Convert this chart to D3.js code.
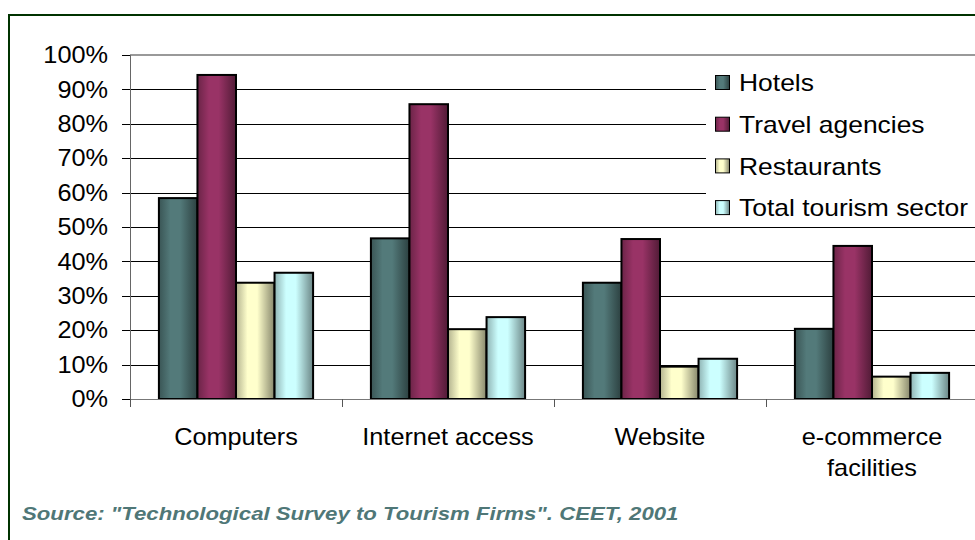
<!DOCTYPE html>
<html lang="en">
<head>
    <meta charset="utf-8">
    <title>Technology use in tourism firms</title>
    <style>
        body {
            margin: 0;
            background: #fff;
            font-family: Arial, "Liberation Sans", sans-serif;
        }
        svg { display: block; }
    </style>
</head>
<body>
    <svg id="chart" width="975" height="540"></svg>

    <script src="https://d3js.org/d3.v7.min.js"></script>
    <script>
        // Data
        const categories = ["Computers", "Internet access", "Website", "e-commerce facilities"];
        const seriesNames = ["Hotels", "Travel agencies", "Restaurants", "Total tourism sector"];
        const hotels = [0.584, 0.467, 0.338, 0.204];
        const travelAgencies = [0.942, 0.857, 0.465, 0.445];
        const restaurants = [0.338, 0.203, 0.094, 0.065];
        const totalTourism = [0.367, 0.238, 0.117, 0.076];
        const yTicks = [0, 0.1, 0.2, 0.3, 0.4, 0.5, 0.6, 0.7, 0.8, 0.9, 1];

        const seriesValues = [hotels, travelAgencies, restaurants, totalTourism];
        const colors = ["#537a7a", "#993366", "#ffffcc", "#ccffff"];

        // text in the reference is a bit stretched sideways
        const font = "Arial, 'Liberation Sans', sans-serif";

        const svg = d3.select("#chart");

        // outer frame
        svg.append("rect")
            .attr("x", 9).attr("y", 15)
            .attr("width", 1000).attr("height", 600)
            .attr("fill", "#fff")
            .attr("stroke", "#003300")
            .attr("stroke-width", 2);

        const plot = { left: 130, right: 978, top: 55, bottom: 399 };

        const x0 = d3.scaleBand()
            .domain(categories)
            .range([plot.left, plot.right]);

        const bw = x0.bandwidth() / 5.5;
        const x1 = d3.scaleBand()
            .domain(seriesNames)
            .range([0.75 * bw, x0.bandwidth() - 0.75 * bw]);

        const y = d3.scaleLinear()
            .domain([0, 1])
            .range([plot.bottom, plot.top]);

        // gradients for the cylinder-ish bar shading
        const defs = svg.append("defs");
        colors.forEach((c, i) => {
            const base = d3.color(c);
            const g = defs.append("linearGradient")
                .attr("id", "grad" + i)
                .attr("x1", "0%").attr("x2", "100%")
                .attr("y1", "0%").attr("y2", "0%");
            g.append("stop").attr("offset", "0%").attr("stop-color", base.darker(1.0));
            g.append("stop").attr("offset", "30%").attr("stop-color", base);
            g.append("stop").attr("offset", "55%").attr("stop-color", base);
            g.append("stop").attr("offset", "100%").attr("stop-color", base.darker(1.8));
        });

        // gridlines
        svg.append("g")
            .selectAll("line")
            .data(yTicks.slice(1, -1))
            .join("line")
            .attr("x1", plot.left).attr("x2", plot.right)
            .attr("y1", d => Math.round(y(d)) + 0.5)
            .attr("y2", d => Math.round(y(d)) + 0.5)
            .attr("stroke", "#000")
            .attr("stroke-width", 1);

        // top border of plot area
        svg.append("line")
            .attr("x1", plot.left).attr("x2", plot.right)
            .attr("y1", plot.top).attr("y2", plot.top)
            .attr("stroke", "#999")
            .attr("stroke-width", 2);

        // y axis
        const yAxis = svg.append("g");
        yAxis.append("line")
            .attr("x1", plot.left + 0.5).attr("x2", plot.left + 0.5)
            .attr("y1", plot.top).attr("y2", plot.bottom + 1)
            .attr("stroke", "#666");
        yAxis.selectAll("line.tick")
            .data(yTicks)
            .join("line")
            .attr("class", "tick")
            .attr("x1", plot.left - 8).attr("x2", plot.left)
            .attr("y1", d => Math.round(y(d)) + 0.5)
            .attr("y2", d => Math.round(y(d)) + 0.5)
            .attr("stroke", "#000");
        yAxis.selectAll("text")
            .data(yTicks)
            .join("text")
            .attr("transform", d => `translate(108,${y(d)}) scale(1.1,1)`)
            .attr("text-anchor", "end")
            .attr("dy", "0.36em")
            .attr("font-family", font)
            .attr("font-size", 23)
            .attr("fill", "#000")
            .text(d3.format(".0%"));

        // bars
        svg.append("g")
            .selectAll("g")
            .data(categories)
            .join("g")
            .attr("transform", d => `translate(${x0(d)},0)`)
            .selectAll("rect")
            .data((d, i) => seriesNames.map((s, j) => ({ s, j, v: seriesValues[j][i] })))
            .join("rect")
            .attr("x", d => x1(d.s))
            .attr("y", d => y(d.v))
            .attr("width", x1.bandwidth())
            .attr("height", d => y(0) - y(d.v))
            .attr("fill", d => `url(#grad${d.j})`)
            .attr("stroke", "#000")
            .attr("stroke-width", 2);

        // x axis
        const xAxis = svg.append("g");
        xAxis.append("line")
            .attr("x1", plot.left).attr("x2", plot.right)
            .attr("y1", plot.bottom + 0.5).attr("y2", plot.bottom + 0.5)
            .attr("stroke", "#777");
        xAxis.selectAll("line.tick")
            .data(categories)
            .join("line")
            .attr("class", "tick")
            .attr("x1", d => Math.round(x0(d)) + 0.5)
            .attr("x2", d => Math.round(x0(d)) + 0.5)
            .attr("y1", plot.bottom).attr("y2", plot.bottom + 8)
            .attr("stroke", "#555");

        const catLines = {
            "e-commerce facilities": ["e-commerce", "facilities"]
        };
        xAxis.selectAll("g.label")
            .data(categories)
            .join("g")
            .attr("class", "label")
            .attr("transform", d => `translate(${x0(d) + x0.bandwidth() / 2},445) scale(1.1,1)`)
            .each(function(d) {
                const lines = catLines[d] || [d];
                d3.select(this).selectAll("text")
                    .data(lines)
                    .join("text")
                    .attr("y", (l, i) => i * 31)
                    .attr("text-anchor", "middle")
                    .attr("font-family", font)
                    .attr("font-size", 23)
                    .attr("fill", "#000")
                    .text(l => l);
            });

        // legend
        const legend = svg.append("g");
        legend.append("rect")
            .attr("x", 706).attr("y", plot.top + 1)
            .attr("width", 300).attr("height", 227 - plot.top - 1)
            .attr("fill", "#fff");
        legend.append("line")
            .attr("x1", 706).attr("x2", 975)
            .attr("y1", 227.5).attr("y2", 227.5)
            .attr("stroke", "#000");
        const items = legend.selectAll("g.item")
            .data(seriesNames)
            .join("g")
            .attr("class", "item")
            .attr("transform", (d, i) => `translate(0,${83 + i * 41.7})`);
        items.append("rect")
            .attr("x", 715.5).attr("y", -7.5)
            .attr("width", 14).attr("height", 14)
            .attr("fill", (d, i) => `url(#grad${i})`)
            .attr("stroke", "#000");
        items.append("text")
            .attr("transform", `translate(739,0) scale(1.15,1)`)
            .attr("dy", "0.36em")
            .attr("font-family", font)
            .attr("font-size", 23)
            .attr("fill", "#000")
            .text(d => d);

        // source note
        svg.append("text")
            .attr("transform", `translate(22,520) scale(1.2,1)`)
            .attr("font-family", font)
            .attr("font-size", 18.5)
            .attr("font-weight", "bold")
            .attr("font-style", "italic")
            .attr("fill", "#4f7777")
            .text('Source: "Technological Survey to Tourism Firms". CEET, 2001');
    </script>
</body>
</html>
